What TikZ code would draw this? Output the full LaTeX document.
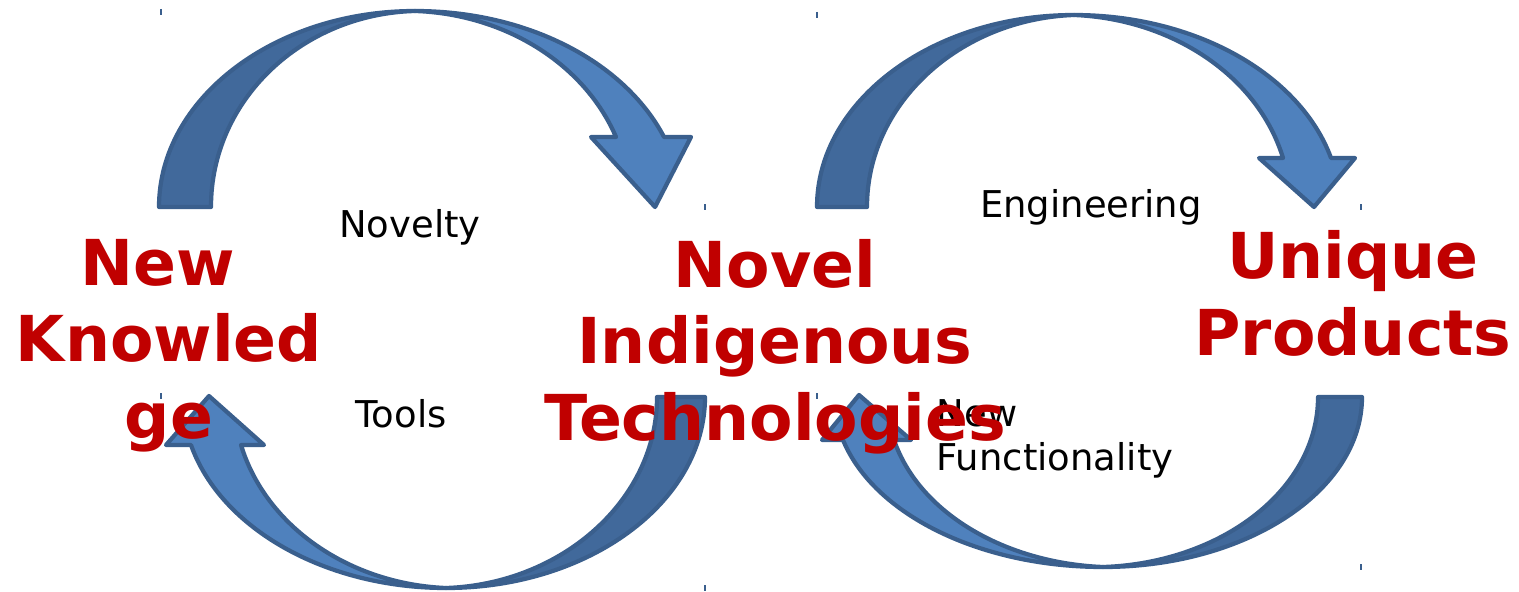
\documentclass[tikz,border=0pt]{standalone}
\usepackage{fontspec}
\setmainfont{DejaVu Sans}
\definecolor{arrowfront}{HTML}{4F81BD}
\definecolor{arrowback}{HTML}{41699B}
\definecolor{arrowline}{HTML}{3A5F8D}
\definecolor{titlered}{HTML}{C00000}

\begin{document}
\begin{tikzpicture}[x=0.01cm, y=-0.01cm]
	\tikzstyle{Front} = [fill=arrowfront, draw=arrowline, line width=1.2pt, line join=round]
	\tikzstyle{Back} = [fill=arrowback, draw=arrowline, line width=1.2pt, line join=round]
	\tikzstyle{corner} = [draw=arrowline, line width=0.5pt]
	\tikzstyle{Title} = [inner sep=0pt, anchor=base, align=center, text=titlered, font=\fontsize{18}{21.7}\selectfont\bfseries]
	\tikzstyle{Label} = [inner sep=0pt, anchor=base, font=\fontsize{10.5}{12.5}\selectfont]
	
	\useasboundingbox (0,0) rectangle (1519,591);
	
	\draw [Back] (159,207) .. controls (159,99) and (274,11) .. (415,11) .. controls (302,14) and (211,100) .. (211,207) -- cycle;
	\draw [Front] (415,11) .. controls (526,11) and (624,61) .. (664,137) -- (691,137) -- (655,207) -- (591,137) -- (616,137) .. controls (584,63) and (504,14) .. (415,11) -- cycle;
	
	\draw [Back] (705,397) .. controls (705,502) and (589,588) .. (446,588) .. controls (562,584) and (657,500) .. (657,397) -- cycle;
	\draw [Front] (446,588) .. controls (326,588) and (221,529) .. (191,445) -- (166,445) -- (209,396) -- (264,445) -- (241,445) .. controls (266,527) and (350,584) .. (446,588) -- cycle;
	
	\draw [Back] (817,207) .. controls (817,101) and (932,15) .. (1074,15) .. controls (960,19) and (867,103) .. (867,207) -- cycle;
	\draw [Front] (1074,15) .. controls (1195,15) and (1300,74) .. (1331,158) -- (1355,158) -- (1314,207) -- (1259,158) -- (1283,158) .. controls (1258,76) and (1172,19) .. (1074,15) -- cycle;
	
	\draw [Back] (1362,397) .. controls (1362,491) and (1246,567) .. (1103,567) .. controls (1222,563) and (1318,489) .. (1318,397) -- cycle;
	\draw [Front] (1103,567) .. controls (981,567) and (874,515) .. (843,440) -- (822,440) -- (859,395) -- (911,440) -- (894,440) .. controls (919,513) and (1005,563) .. (1103,567) -- cycle;
	
	\foreach \x/\y in {161/12, 705/207, 161/396, 705/588, 817/15, 1361/207, 817/396, 1361/567}
		\draw [corner] (\x,\y-3) -- (\x,\y+3);
	
	\node (novelty) [Label] at (410,237) {Novelty};
	\node (tools) [Label] at (401,427) {Tools};
	\node (engineering) [Label] at (1091,217) {Engineering};
	\node (functionality) [Label, align=left, anchor=base west] at (936,470) {New\\Functionality};
	
	\node (knowledge) [Title] at (169,438) {New\hspace*{.35em}\\Knowled\\ge};
	\node (technologies) [Title] at (775,440) {Novel\\Indigenous\\Technologies};
	\node (products) [Title] at (1353,355) {Unique\\Products};
\end{tikzpicture}
\end{document}
